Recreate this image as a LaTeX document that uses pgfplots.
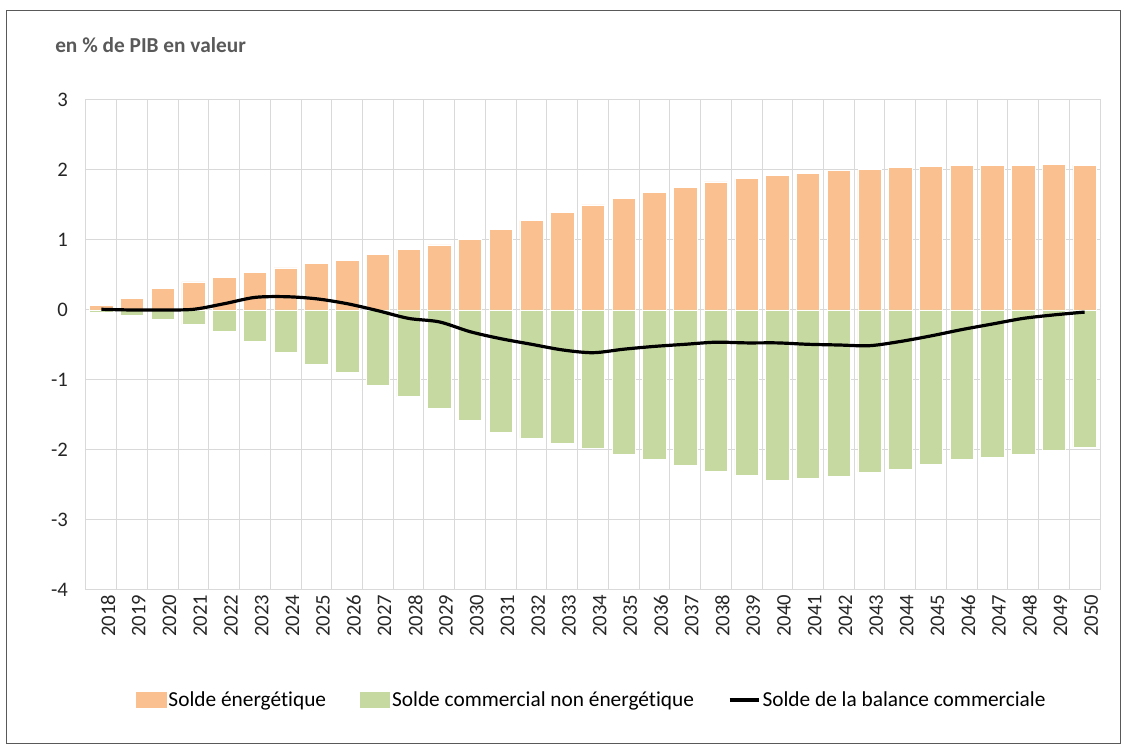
\documentclass[border=0pt]{standalone}
\usepackage{pgfplots}
\pgfplotsset{compat=1.18}
\usepackage{fontspec}
\setmainfont[Ligatures=NoCommon]{Carlito}
\definecolor{orng}{HTML}{FAC090}
\definecolor{grn}{HTML}{C6D9A0}
\definecolor{gridc}{HTML}{D9D9D9}
\definecolor{ttl}{HTML}{595959}
\definecolor{txt}{HTML}{262626}

\pgfplotstableread{
year  ener   nonener  solde
2018  0.06  -0.04   0.01
2019  0.16  -0.08   0.00
2020  0.31  -0.13   0.00
2021  0.40  -0.21   0.01
2022  0.47  -0.31   0.09
2023  0.54  -0.45   0.18
2024  0.60  -0.60   0.19
2025  0.66  -0.77   0.16
2026  0.71  -0.89   0.09
2027  0.79  -1.08  -0.01
2028  0.86  -1.24  -0.12
2029  0.93  -1.41  -0.17
2030  1.01  -1.57  -0.31
2031  1.15  -1.75  -0.41
2032  1.28  -1.83  -0.49
2033  1.39  -1.91  -0.57
2034  1.50  -1.98  -0.61
2035  1.59  -2.06  -0.56
2036  1.68  -2.14  -0.52
2037  1.75  -2.22  -0.49
2038  1.83  -2.31  -0.46
2039  1.88  -2.36  -0.47
2040  1.92  -2.43  -0.47
2041  1.95  -2.41  -0.49
2042  1.99  -2.37  -0.50
2043  2.01  -2.32  -0.51
2044  2.04  -2.27  -0.45
2045  2.05  -2.21  -0.37
2046  2.06  -2.13  -0.28
2047  2.07  -2.10  -0.20
2048  2.07  -2.06  -0.12
2049  2.08  -2.01  -0.07
2050  2.07  -1.96  -0.03
}\datatable

\begin{document}
\begin{tikzpicture}[x=1pt,y=1pt]
\useasboundingbox (-64.5,-116.25) rectangle (781.5,442.5);
\draw[color=black!65, line width=0.75pt] (-59.25,-115.5) rectangle (775.5,434.25);
\node[anchor=west, text=ttl, font=\fontsize{16}{19}\selectfont\bfseries, inner sep=0pt] at (-23.25,408.75) {en \% de PIB en valeur};
\begin{axis}[
  at={(0pt,0pt)}, anchor=south west,
  scale only axis, width=760.5pt, height=367.5pt,
  xmin=2017.5, xmax=2050.5, ymin=-4, ymax=3,
  ybar, bar width=0.76,
  xtick={2018,...,2050},
  minor xtick={2017.5,2018.5,...,2050.5},
  ytick={-4,-3,-2,-1,0,1,2,3},
  xminorgrids=true, ymajorgrids=true, xmajorgrids=false,
  grid style={draw=gridc, line width=0.75pt},
  minor grid style={draw=gridc, line width=0.75pt},
  axis line style={draw=gridc, line width=0.75pt},
  major tick length=0pt, minor tick length=0pt,
  /pgf/number format/1000 sep={},
  /pgf/number format/assume math mode=true,
  ticklabel style={font=\fontsize{15.5}{18}\selectfont, text=txt},
  yticklabel style={xshift=-10pt},
  xticklabel style={rotate=90, anchor=east, yshift=-5pt},
  legend style={at={(0.499,-0.2245)}, anchor=center, draw=none, fill=none,
    legend columns=3, font=\fontsize{16}{19}\selectfont,
    /tikz/every even column/.append style={column sep=24pt},
    nodes={inner xsep=1.5pt, text=black}},
]
\addplot[fill=orng, draw=white, line width=0.5pt, bar shift=0pt,
  legend image code/.code={\fill[orng] (0pt,-5.5pt) rectangle (22pt,5.5pt);}]
  table[x=year, y=ener] {\datatable};
\addlegendentry{Solde énergétique}
\addplot[fill=grn, draw=white, line width=0.5pt, bar shift=0pt,
  legend image code/.code={\fill[grn] (0pt,-5.5pt) rectangle (22pt,5.5pt);}]
  table[x=year, y=nonener] {\datatable};
\addlegendentry{Solde commercial non énergétique}
\addplot[sharp plot, smooth, black, line width=2.4pt, mark=none,
  legend image code/.code={\draw[black, line width=2.4pt] (0pt,0pt) -- (22pt,0pt);}]
  table[x=year, y=solde] {\datatable};
\addlegendentry{Solde de la balance commerciale}
\end{axis}
\end{tikzpicture}
\end{document}
